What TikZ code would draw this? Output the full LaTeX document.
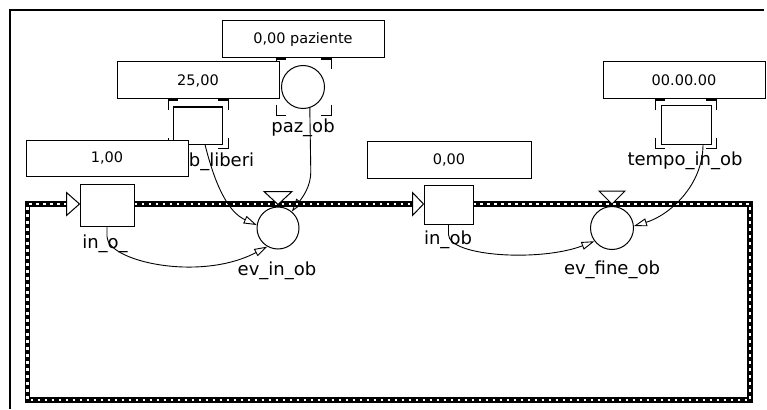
\documentclass[tikz,border=0pt]{standalone}
\usepackage{fontspec}
\setmainfont{DejaVu Sans}
\usetikzlibrary{arrows.meta,calc}
\begin{document}
\begin{tikzpicture}[x=1pt,y=-1pt,
  valbox/.style={draw,line width=1pt,fill=white,inner sep=0pt,font=\fontsize{14.5}{16}\selectfont},
  stockbox/.style={draw,line width=1pt,fill=white,inner sep=0pt},
  evcirc/.style={draw,line width=1pt,circle,fill=white,inner sep=0pt,minimum size=43pt},
  lbl/.style={inner sep=0pt,anchor=base,font=\fontsize{18}{20}\selectfont},
  conn/.style={line width=0.9pt,-{Triangle[open,length=13pt,width=8pt]}},
  tri/.style={draw,line width=1pt,fill=white,line join=miter},
  flowline/.style={line width=5.5pt,line join=miter,
     postaction={draw=white,line width=2.5pt,dash pattern=on 2.5pt off 4.5pt}},
  brk/.style={line width=1pt},
  brkt/.style={line width=2pt}
]
\useasboundingbox (0,0) rectangle (767,409);
\fill[white] (0,0) rectangle (767,409);
% window border
\draw[line width=2pt] (10,409) -- (10,10) -- (764,10);

% flow loop corners
\coordinate (cTL) at (27.5,204);
\coordinate (cBL) at (27.5,400);
\coordinate (cBR) at (750,400);
\coordinate (cTR) at (750,204);

% stocks
\node[stockbox,minimum width=54pt,minimum height=42pt] (in1) at (107,205) {};
\node[stockbox,minimum width=49pt,minimum height=39pt] (in2) at (448.5,204.5) {};
\node[stockbox,minimum width=49pt,minimum height=37pt] (ob) at (197.5,125.5) {};
\node[stockbox,minimum width=50pt,minimum height=38pt] (tempo) at (686,125) {};

% circles
\node[evcirc,minimum size=43pt] (paz) at (303,87) {};
\node[evcirc,minimum size=42pt] (evin) at (278,228) {};
\node[evcirc,minimum size=43pt] (evfine) at (612,228) {};

% flow lines
\draw[flowline] ($(in1.west |- cTL)+(-13,0)$) -- (cTL) -- (cBL) -- (cBR) -- (cTR) -- (in2.east |- cTR);
\draw[flowline] (in1.east |- cTL) -- ($(in2.west |- cTL)+(-11,0)$);

% flow arrow triangles
\draw[tri] (in1.west |- cTL) -- ++(-13,-11.5) -- ++(0,23) -- cycle;
\draw[tri] (in2.west |- cTL) -- ++(-11,-11.5) -- ++(0,23) -- cycle;
% valve triangles
\draw[tri] ([yshift=2pt]evin.north) -- ++(-14,-13) -- ++(28,0) -- cycle;
\draw[tri] ([yshift=2pt]evfine.north) -- ++(-13,-13) -- ++(26,0) -- cycle;

% corner brackets
\draw[brk] (168,110) -- (168,100); \draw[brkt] (167.5,100) -- (178,100);
\draw[brk] (228,110) -- (228,100); \draw[brkt] (228.5,100) -- (218,100);
\draw[brk] (168,138) -- (168,148) -- (178,148);
\draw[brk] (228,138) -- (228,148) -- (218,148);

\draw[brk] (655,110) -- (655,100); \draw[brkt] (654.5,100) -- (665,100);
\draw[brk] (716,110) -- (716,100); \draw[brkt] (716.5,100) -- (706,100);
\draw[brk] (655,138) -- (655,148) -- (665,148);
\draw[brk] (716,138) -- (716,148) -- (706,148);

\draw[brk] (276,69) -- (276,59); \draw[brkt] (275.5,59) -- (286,59);
\draw[brk] (331,69) -- (331,59); \draw[brkt] (331.5,59) -- (321,59);
\draw[brk] (276,105) -- (276,115) -- (286,115);
\draw[brk] (331,105) -- (331,115) -- (321,115);

% labels
\node[lbl] (lpaz) at (303,132) {paz\_ob};
\node[lbl] (lob) at (216,166) {ob\_liberi};
\node[lbl] (lin1) at (105,248) {in\_o\_};
\node[lbl] (levin) at (277,275) {ev\_in\_ob};
\node[lbl] (lin2) at (448,244) {in\_ob};
\node[lbl] (levfine) at (612,274) {ev\_fine\_ob};
\node[lbl] (ltempo) at (685,165) {tempo\_in\_ob};

% connectors
\draw[conn] (in1.south) -- ++(0,10) .. controls +(0,25) and (200,282) .. (evin.240);
\draw[conn] ([xshift=7.5pt]ob.south) .. controls (215,185) and (228,212) .. (evin.172);
\draw[conn] (paz.-72) -- ++(1,64) .. controls +(0,15) and (302,198) .. (evin.50);
\draw[conn] (in2.south) -- ++(0,10) .. controls +(0,22) and (540,262) .. (evfine.217);
\draw[conn] ([xshift=17pt]tempo.south) .. controls (703,185) and (670,215) .. (evfine.5);

% value boxes
\node[valbox,minimum width=162pt,minimum height=37pt] (vpaz) at (303,39.5) {0,00 paziente};
\node[valbox,minimum width=162pt,minimum height=37pt] (vlib) at (198,80.5) {25,00};
\node[valbox,minimum width=162pt,minimum height=36pt] (vin1) at (107,158) {1,00};
\node[valbox,minimum width=164pt,minimum height=37pt] (vin2) at (449,159.5) {0,00};
\node[valbox,minimum width=162pt,minimum height=37pt] (vtempo) at (684,80.5) {00.00.00};
\end{tikzpicture}
\end{document}
